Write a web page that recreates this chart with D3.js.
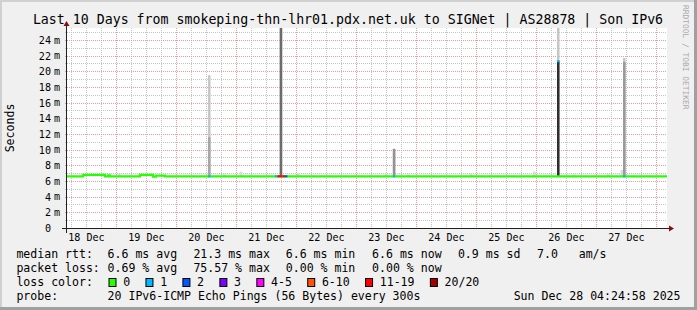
<!DOCTYPE html>
<html>
<head>
<meta charset="utf-8">
<script src="https://cdn.jsdelivr.net/npm/d3@7"></script>
<style>
body { margin: 0; background: #f0f0f0; }
svg { display: block; }
text { font-family: "DejaVu Sans Mono", monospace; fill: #000; }
</style>
</head>
<body>
<script>
// graph window
var startTime = "2025-12-18T04:24:58",
    endTime = "2025-12-28T04:24:58";

var title = "Last 10 Days from smokeping-thn-lhr01.pdx.net.uk to SIGNet | AS28878 | Son IPv6";

// axis labels
var yTicks = [0, 2, 4, 6, 8, 10, 12, 14, 16, 18, 20, 22, 24];
var dayDates = ["2025-12-18", "2025-12-19", "2025-12-20", "2025-12-21", "2025-12-22",
                "2025-12-23", "2025-12-24", "2025-12-25", "2025-12-26", "2025-12-27"];
var dayLabels = ["18 Dec", "19 Dec", "20 Dec", "21 Dec", "22 Dec",
                 "23 Dec", "24 Dec", "25 Dec", "26 Dec", "27 Dec"];

// median rtt (ms), step changes
var medianTimes = ["2025-12-18T04:25", "2025-12-18T10:55", "2025-12-18T19:35", "2025-12-18T20:50",
                   "2025-12-18T21:35", "2025-12-19T09:35", "2025-12-19T14:50", "2025-12-19T16:00",
                   "2025-12-19T19:35", "2025-12-28T04:25"];
var medianValues = [6.6, 6.78, 6.6, 6.72, 6.6, 6.78, 6.55, 6.68, 6.6, 6.6];

// smoke spikes (ms): min, dense part top, max, share of pings in dense part
var smokeTimes = ["2025-12-20T12:50", "2025-12-21T17:30", "2025-12-23T14:45", "2025-12-26T08:25", "2025-12-27T10:50"];
var smokeMin = [6.6, 6.6, 6.6, 6.6, 6.6];
var smokeDense = [11.6, 26.5, 10.1, 21.3, 21.2];
var smokeMax = [19.5, 26.5, 10.1, 26.5, 21.7];
var smokeDensity = [0.3, 0.61, 0.4, 0.92, 0.37];

// small smoke just above the median
var bumpTimes = ["2025-12-19T00:50", "2025-12-19T17:35", "2025-12-20T18:50", "2025-12-21T01:35",
                 "2025-12-22T00:25", "2025-12-23T11:35", "2025-12-23T20:25", "2025-12-24T21:35",
                 "2025-12-25T22:50", "2025-12-26T14:50", "2025-12-27T04:25", "2025-12-27T09:50"];
var bumpValues = [6.9, 6.85, 6.9, 7.2, 7.0, 6.85, 6.85, 7.0, 7.2, 6.85, 6.9, 7.4];

// packet loss steps (pings lost of 20)
var lossTimes = ["2025-12-20T12:50", "2025-12-21T15:35", "2025-12-21T16:35", "2025-12-21T17:35",
                 "2025-12-21T18:35", "2025-12-21T19:35", "2025-12-23T14:45", "2025-12-26T08:25",
                 "2025-12-27T10:50"];
var lossCounts = [1, 1, 12, 15, 12, 2, 1, 1, 1];
var lossMedians = [6.6, 6.6, 6.6, 6.6, 6.6, 6.6, 6.6, 21.3, 6.6];

// legend
var lossLabels = ["0", "1", "2", "3", "4-5", "6-10", "11-19", "20/20"];
var lossColors = ["#26ff00", "#00b8ff", "#0059ff", "#7e00ff", "#ff00ff", "#ff5500", "#ff0000", "#a10000"];
var rttStats = ["6.6 ms avg", "21.3 ms max", "6.6 ms min", "6.6 ms now", "0.9 ms sd", "7.0   am/s"];
var lossStats = ["0.69 % avg", "75.57 % max", "0.00 % min", "0.00 % now"];
var probeText = "20 IPv6-ICMP Echo Pings (56 Bytes) every 300s";
var stampText = "Sun Dec 28 04:24:58 2025";

var width = 697, height = 310;
var plot = {left: 67, right: 667, top: 28, bottom: 228};
var parse = d3.isoParse;
var hour = 3600 * 1000;

var x = d3.scaleTime()
    .domain([parse(startTime), parse(endTime)])
    .range([plot.left, plot.right]);

var y = d3.scaleLinear()
    .domain([0, 25.53])
    .range([plot.bottom, plot.top]);

var lossColor = d3.scaleThreshold()
    .domain([1, 2, 3, 4, 6, 11, 20])
    .range(lossColors);

var shade = d3.scaleLinear()
    .domain([0, 1])
    .range(["#e0e0e0", "#202020"]);

var svg = d3.select("body").append("svg")
    .attr("width", width)
    .attr("height", height);

// background and 3d frame
svg.append("rect").attr("width", width).attr("height", height).attr("fill", "#f0f0f0");
svg.append("rect").attr("x", 0).attr("y", 0).attr("width", width).attr("height", 2).attr("fill", "#d0d0d0");
svg.append("rect").attr("x", 0).attr("y", 0).attr("width", 2).attr("height", height).attr("fill", "#d0d0d0");
svg.append("rect").attr("x", width - 3).attr("y", 0).attr("width", 3).attr("height", height).attr("fill", "#a0a0a0");
svg.append("rect").attr("x", 0).attr("y", height - 3).attr("width", width).attr("height", 3).attr("fill", "#a0a0a0");

svg.append("rect")
    .attr("x", plot.left).attr("y", plot.top)
    .attr("width", plot.right - plot.left).attr("height", plot.bottom - plot.top)
    .attr("fill", "#ffffff");

svg.append("defs").append("clipPath").attr("id", "clip")
  .append("rect")
    .attr("x", plot.left).attr("y", plot.top)
    .attr("width", plot.right - plot.left).attr("height", plot.bottom - plot.top);

// grid
var grid = svg.append("g").attr("shape-rendering", "crispEdges");
var minorY = d3.range(1, 26, 2);
var majorY = d3.range(2, 26, 2);
var sixHours = d3.timeHour.every(6).range(x.domain()[0], x.domain()[1]);
var minorX = sixHours.filter(function(d) { return d.getHours() !== 0; });
var majorX = sixHours.filter(function(d) { return d.getHours() === 0; });

grid.selectAll(".hmin").data(minorY).enter().append("line")
    .attr("x1", plot.left - 2).attr("x2", plot.right)
    .attr("y1", function(d) { return Math.round(y(d)) + 0.5; })
    .attr("y2", function(d) { return Math.round(y(d)) + 0.5; })
    .attr("stroke", "#c4c4c4").attr("stroke-dasharray", "1,1");
grid.selectAll(".vmin").data(minorX).enter().append("line")
    .attr("x1", function(d) { return Math.round(x(d)) + 0.5; })
    .attr("x2", function(d) { return Math.round(x(d)) + 0.5; })
    .attr("y1", plot.top).attr("y2", plot.bottom)
    .attr("stroke", "#c4c4c4").attr("stroke-dasharray", "1,1");
grid.selectAll(".hmaj").data(majorY).enter().append("line")
    .attr("x1", plot.left - 2).attr("x2", plot.right)
    .attr("y1", function(d) { return Math.round(y(d)) + 0.5; })
    .attr("y2", function(d) { return Math.round(y(d)) + 0.5; })
    .attr("stroke", "#ee9a9a").attr("stroke-dasharray", "1,1");
grid.selectAll(".vmaj").data(majorX).enter().append("line")
    .attr("x1", function(d) { return Math.round(x(d)) + 0.5; })
    .attr("x2", function(d) { return Math.round(x(d)) + 0.5; })
    .attr("y1", plot.top).attr("y2", plot.bottom + 2)
    .attr("stroke", "#ee9a9a").attr("stroke-dasharray", "1,1");

// smoke
var smoke = svg.append("g").attr("clip-path", "url(#clip)");
var bumps = bumpTimes.map(function(t, i) { return {t: parse(t), v: bumpValues[i]}; });
smoke.selectAll(".bump").data(bumps).enter().append("rect")
    .attr("x", function(d) { return x(d.t); })
    .attr("width", function(d) { return x(new Date(+d.t + hour)) - x(d.t); })
    .attr("y", function(d) { return y(d.v); })
    .attr("height", function(d) { return y(6.6) - y(d.v); })
    .attr("fill", "#dadada");

var spikes = smokeTimes.map(function(t, i) {
  return {t: parse(t), lo: smokeMin[i], mid: smokeDense[i], hi: smokeMax[i], dens: smokeDensity[i]};
});
smoke.selectAll(".outer").data(spikes).enter().append("rect")
    .attr("x", function(d) { return x(d.t); })
    .attr("width", function(d) { return x(new Date(+d.t + hour)) - x(d.t); })
    .attr("y", function(d) { return y(d.hi); })
    .attr("height", function(d) { return y(d.lo) - y(d.hi); })
    .attr("fill", "#c6c6c6");
smoke.selectAll(".inner").data(spikes).enter().append("rect")
    .attr("x", function(d) { return x(d.t); })
    .attr("width", function(d) { return x(new Date(+d.t + hour)) - x(d.t); })
    .attr("y", function(d) { return y(d.mid); })
    .attr("height", function(d) { return y(d.lo) - y(d.mid); })
    .attr("fill", function(d) { return shade(d.dens); });

// median line
var median = medianTimes.map(function(t, i) { return {t: parse(t), v: medianValues[i]}; });
var line = d3.line()
    .x(function(d) { return x(d.t); })
    .y(function(d) { return y(d.v); })
    .curve(d3.curveStepAfter);

smoke.append("path")
    .datum(median)
    .attr("d", line)
    .attr("fill", "none")
    .attr("stroke", lossColors[0])
    .attr("stroke-width", 2.2);

var losses = lossTimes.map(function(t, i) { return {t: parse(t), n: lossCounts[i], v: lossMedians[i]}; });
smoke.selectAll(".loss").data(losses).enter().append("line")
    .attr("x1", function(d) { return x(d.t); })
    .attr("x2", function(d) { return x(new Date(+d.t + hour)); })
    .attr("y1", function(d) { return y(d.v); })
    .attr("y2", function(d) { return y(d.v); })
    .attr("stroke", function(d) { return lossColor(d.n); })
    .attr("stroke-width", 2.2);

// axes
var xAxis = d3.axisBottom(x)
    .tickValues(dayDates.map(function(d) { return parse(d + "T12:00"); }))
    .tickFormat(function(d, i) { return dayLabels[i]; })
    .tickSize(0)
    .tickPadding(6.3);

var gx = svg.append("g")
    .attr("transform", "translate(0," + plot.bottom + ")")
    .call(xAxis);
gx.select(".domain").remove();
gx.selectAll("text").attr("font-family", "DejaVu Sans Mono").attr("font-size", "10.1px");

var yAxis = d3.axisLeft(y)
    .tickValues(yTicks)
    .tickFormat(function(d) { return d; })
    .tickSize(0)
    .tickPadding(15.5);

var gy = svg.append("g")
    .attr("transform", "translate(" + (plot.left - 0.5) + ",0)")
    .call(yAxis);
gy.select(".domain").remove();
gy.selectAll("text").attr("font-family", "DejaVu Sans Mono").attr("font-size", "10.1px").attr("dy", "0.36em");

svg.selectAll(".unit").data(yTicks.filter(function(d) { return d > 0; })).enter().append("text")
    .attr("x", 54)
    .attr("y", function(d) { return y(d); })
    .attr("dy", "0.36em")
    .attr("font-size", "10.1px")
    .text("m");

svg.append("path")
    .attr("d", "M62," + (plot.bottom + 0.5) + "H669")
    .attr("stroke", "#202020").attr("shape-rendering", "crispEdges");
svg.append("path")
    .attr("d", "M" + (plot.left - 0.5) + ",233V26")
    .attr("stroke", "#202020").attr("shape-rendering", "crispEdges");
svg.append("path")
    .attr("d", "M669,225.5L674,228.5L669,231.5Z")
    .attr("fill", "#801010");
svg.append("path")
    .attr("d", "M63.5,26L66.5,21L69.5,26Z")
    .attr("fill", "#801010");

// title and labels
svg.append("text")
    .attr("x", 348).attr("y", 23.5)
    .attr("text-anchor", "middle")
    .attr("font-size", "13.25px")
    .text(title);

svg.append("text")
    .attr("transform", "translate(14,128) rotate(-90)")
    .attr("text-anchor", "middle")
    .attr("font-size", "11.56px")
    .text("Seconds");

svg.append("text")
    .attr("transform", "translate(683,5) rotate(90)")
    .attr("font-size", "7.9px")
    .style("fill", "#aaaaaa")
    .text("RRDTOOL / TOBI OETIKER");

// legend
var legend = svg.append("g").attr("font-size", "11.56px");
var rows = [257.7, 271.7, 285.7, 299.7];
var cols = [107.6, 193.4, 285.8, 372.1, 457.9, 537];

legend.append("text").attr("x", 16.4).attr("y", rows[0]).text("median rtt:");
legend.selectAll(".rtt").data(rttStats).enter().append("text")
    .attr("x", function(d, i) { return cols[i]; }).attr("y", rows[0])
    .attr("xml:space", "preserve")
    .style("white-space", "pre")
    .text(function(d) { return d; });

legend.append("text").attr("x", 16.4).attr("y", rows[1]).text("packet loss:");
legend.selectAll(".pl").data(lossStats).enter().append("text")
    .attr("x", function(d, i) { return cols[i]; }).attr("y", rows[1]).text(function(d) { return d; });

legend.append("text").attr("x", 16.4).attr("y", rows[2]).text("loss color:");
var sx = 108.5;
lossLabels.forEach(function(lbl, i) {
  legend.append("rect")
      .attr("x", sx + 0.5).attr("y", 278.5)
      .attr("width", 7).attr("height", 8)
      .attr("fill", lossColors[i])
      .attr("stroke", "#000").attr("stroke-width", 1);
  legend.append("text").attr("x", sx + 14.7).attr("y", rows[2]).text(lbl);
  sx += 14.7 + lbl.length * 6.96 + 15.3;
});

legend.append("text").attr("x", 16.4).attr("y", rows[3]).text("probe:");
legend.append("text").attr("x", cols[0]).attr("y", rows[3]).text(probeText);
legend.append("text").attr("x", 680.5).attr("y", rows[3]).attr("text-anchor", "end").text(stampText);
</script>
</body>
</html>
